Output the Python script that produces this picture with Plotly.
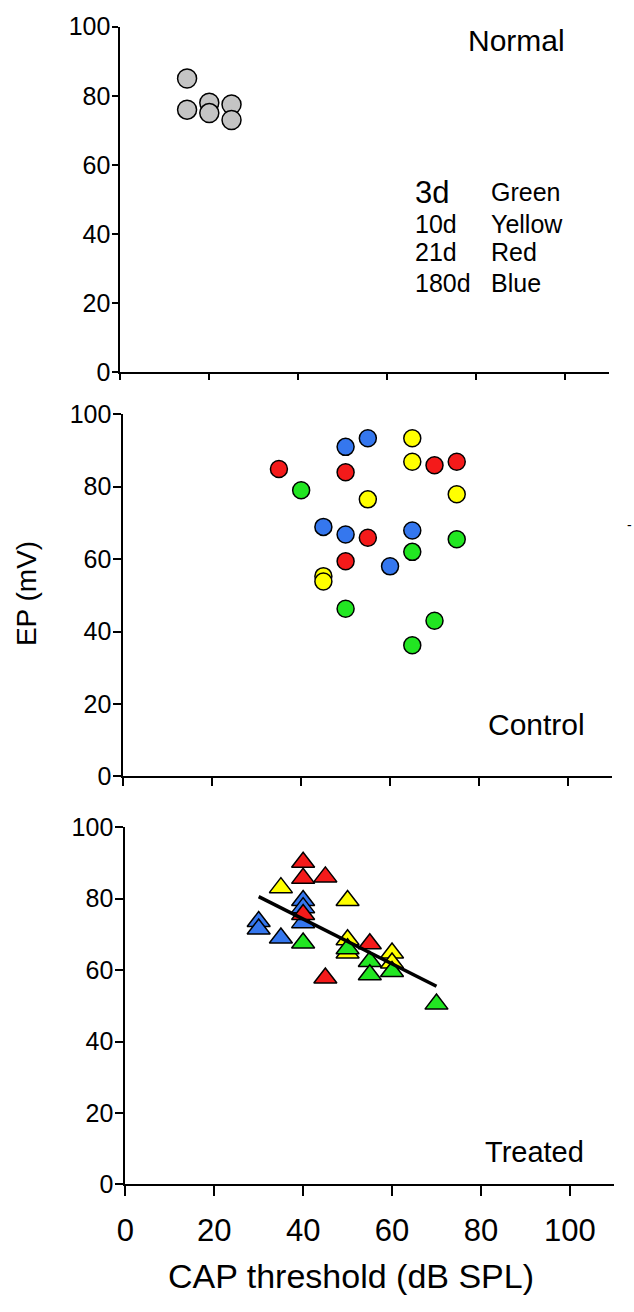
import plotly.graph_objects as go

W, H = 634, 1312

# ---------------- data ----------------
normal_x = [15, 15, 20, 20, 25, 25]
normal_y = [85, 76, 78, 75, 77.5, 73]

ctrl_green_x = [40, 65, 75, 50, 70, 65]
ctrl_green_y = [79, 62, 65.5, 46.3, 43, 36.2]
ctrl_yellow_x = [65, 65, 55, 75, 45, 45]
ctrl_yellow_y = [93.4, 86.9, 76.5, 77.9, 55.3, 53.8]
ctrl_red_x = [35, 50, 70, 75, 55, 50]
ctrl_red_y = [84.9, 84, 85.9, 86.9, 65.9, 59.4]
ctrl_blue_x = [50, 55, 45, 50, 65, 60]
ctrl_blue_y = [91, 93.4, 68.9, 66.8, 67.9, 58]

trt_green_x = [40, 50, 55, 55, 60, 70]
trt_green_y = [67.6, 66, 62.4, 58.7, 59.6, 50.5]
trt_yellow_x = [35, 50, 50, 50, 60, 60]
trt_yellow_y = [83.1, 79.5, 68.5, 64.8, 64.8, 62]
trt_red_x = [40, 40, 45, 40, 55, 45]
trt_red_y = [90.2, 85.7, 86.1, 75.6, 67.4, 57.8]
trt_blue_x = [30, 30, 35, 40, 40, 40]
trt_blue_y = [73.6, 71.5, 69.0, 79.5, 77.5, 73.3]

fit_x = [30, 70]
fit_y = [80.6, 55.5]

x_ticks = [0, 20, 40, 60, 80, 100]
y_ticks = [0, 20, 40, 60, 80, 100]

legend_days = ["3d", "10d", "21d", "180d"]
legend_colors = ["Green", "Yellow", "Red", "Blue"]

GREEN = "#22E622"
YELLOW = "#FFFF00"
RED = "#F41A1A"
BLUE = "#3577EE"
GREY = "#C4C4C4"

FONT = "Liberation Sans, Arial, sans-serif"

fig = go.Figure()

def circ(x, y, color, ax, size=17):
    fig.add_trace(go.Scatter(
        x=x, y=y, mode="markers", xaxis=ax[0], yaxis=ax[1],
        marker=dict(symbol="circle", size=size, color=color,
                    line=dict(color="black", width=1.5)),
        showlegend=False, hoverinfo="skip"))

def tri(x, y, color, ax, size=20):
    fig.add_trace(go.Scatter(
        x=x, y=y, mode="markers", xaxis=ax[0], yaxis=ax[1],
        marker=dict(symbol="triangle-up", size=size, color=color,
                    line=dict(color="black", width=1.5)),
        showlegend=False, hoverinfo="skip"))

# top panel
circ(normal_x, normal_y, GREY, ("x", "y"), size=19)

# middle panel
ax2 = ("x2", "y2")
circ(ctrl_green_x, ctrl_green_y, GREEN, ax2)
circ(ctrl_yellow_x, ctrl_yellow_y, YELLOW, ax2)
circ(ctrl_red_x, ctrl_red_y, RED, ax2)
circ(ctrl_blue_x, ctrl_blue_y, BLUE, ax2)

# bottom panel
ax3 = ("x3", "y3")
tri(trt_blue_x, trt_blue_y, BLUE, ax3)
tri(trt_red_x, trt_red_y, RED, ax3)
tri(trt_yellow_x, trt_yellow_y, YELLOW, ax3)
tri(trt_green_x, trt_green_y, GREEN, ax3)
fig.add_trace(go.Scatter(x=fit_x, y=fit_y, mode="lines", xaxis="x3", yaxis="y3",
                         line=dict(color="black", width=3.5),
                         showlegend=False, hoverinfo="skip"))

def px(v):
    return v / W

def py(v):
    return 1 - v / H

def xaxis(d0, d1, anchor, labels, ticklen, standoff=0):
    return dict(domain=[px(d0), px(d1)], range=[0, 110], anchor=anchor,
                tickvals=x_ticks, showticklabels=labels, ticks="outside",
                ticklen=ticklen, tickwidth=2, tickcolor="black",
                showline=True, linecolor="black", linewidth=2,
                showgrid=False, zeroline=False, ticklabelstandoff=standoff,
                tickfont=dict(family=FONT, size=31, color="black"))

def yaxis(d0, d1, anchor, ticklen):
    return dict(domain=[py(d1), py(d0)], range=[0, 100], anchor=anchor,
                tickvals=y_ticks, ticks="outside", ticklen=ticklen,
                tickwidth=2, tickcolor="black",
                showline=True, linecolor="black", linewidth=2,
                showgrid=False, zeroline=False, ticklabelstandoff=-3,
                tickfont=dict(family=FONT, size=25, color="black"))

annotations = []

def ann(text, x, y, xr, yr, size=24, xanchor="center", **kw):
    annotations.append(dict(text=text, x=x, y=y, xref=xr, yref=yr,
                            showarrow=False, xanchor=xanchor, yanchor="middle",
                            font=dict(family=FONT, size=size, color="black"), **kw))

ann("Normal", 89, 96, "x", "y", size=30)
leg_y = [52.1, 42.8, 34.8, 25.8]
for i, (d, c) in enumerate(zip(legend_days, legend_colors)):
    ann(d, 65.9, leg_y[i], "x", "y", size=31 if i == 0 else 25, xanchor="left")
    ann(c, 82.9, leg_y[i], "x", "y", size=25, xanchor="left")
ann("Control", 92.9, 14.3, "x2", "y2", size=30)
ann("Treated", 92, 9, "x3", "y3", size=29)
ann("-", px(629), py(522), "paper", "paper", size=14)
ann("EP (mV)", px(18), py(592), "paper", "paper", size=28, textangle=-90)
ann("CAP threshold (dB SPL)", px(347), py(1290), "paper", "paper", size=34)

fig.update_layout(
    width=W, height=H, margin=dict(l=0, r=0, t=0, b=0),
    paper_bgcolor="white", plot_bgcolor="white",
    xaxis=xaxis(113, 609, "y", False, 6),
    yaxis=yaxis(13, 366, "x", 6),
    xaxis2=xaxis(116, 612, "y2", False, 8),
    yaxis2=yaxis(409, 779, "x2", 8),
    xaxis3=xaxis(118, 614, "y3", True, 10, standoff=7),
    yaxis3=yaxis(831, 1196, "x3", 8),
    annotations=annotations,
    showlegend=False,
)

fig.write_html(
    "out.html",
    config={"displayModeBar": False},
    post_script="document.body.style.margin='0';document.body.style.overflow='hidden';",
)
